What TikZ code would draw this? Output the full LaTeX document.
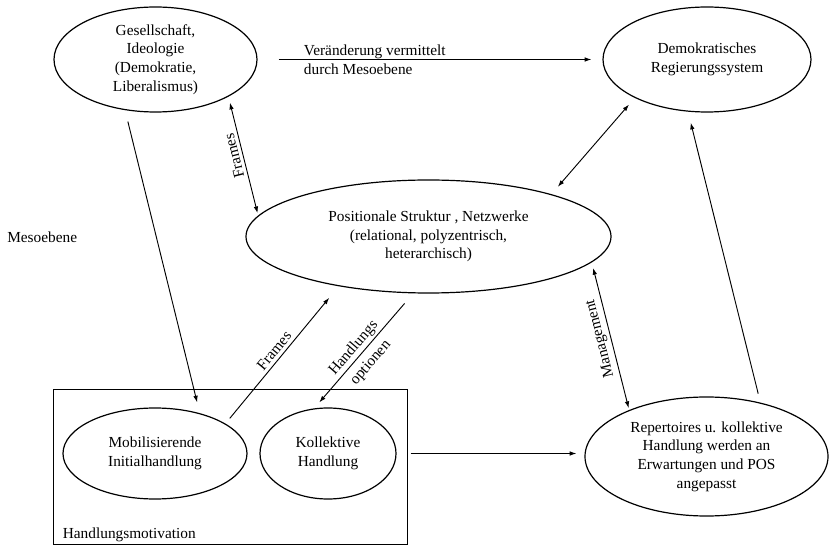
\documentclass[tikz,border=0pt]{standalone}
\usepackage{fontspec}
\setmainfont{Liberation Serif}
\usepackage{tikz}
\usetikzlibrary{arrows.meta,shapes.geometric}
\tikzset{
  oval/.style={ellipse, draw, line width=0.9pt, inner sep=0pt, align=center},   % actor / structure ellipses
  motivbox/.style={draw, line width=0.6pt, inner sep=0pt},                       % Handlungsmotivation frame
  arr/.style={-{Latex[length=5pt,width=3.4pt]}, line width=0.7pt},
  dblarr/.style={{Latex[length=5pt,width=3.4pt]}-{Latex[length=5pt,width=3.4pt]}, line width=0.7pt},
  tag/.style={inner sep=2.5pt}
}
\begin{document}
\begin{tikzpicture}[x=0.75pt, y=-0.75pt, every node/.style={font=\fontsize{11.5}{14}\selectfont}]
  \useasboundingbox (0,0) rectangle (829,545);
  % Ellipses
  \node[oval, minimum width=152.25pt, minimum height=78.75pt] (gesell) at (155.5,59.5) {Gesellschaft,\\Ideologie\\(Demokratie,\\Liberalismus)};
  \node[oval, minimum width=156pt, minimum height=78.75pt] (regsys) at (707,59.5) {Demokratisches\\Regierungssystem};
  \node[oval, minimum width=273.75pt, minimum height=84.75pt] (netz) at (428.5,236.5) {Positionale Struktur , Netzwerke\\(relational, polyzentrisch,\\heterarchisch)};
  \node[oval, minimum width=138pt, minimum height=68.25pt] (mobil) at (155,453.5) {Mobilisierende\\Initialhandlung};
  \node[oval, minimum width=102pt, minimum height=68.25pt] (kollekt) at (328,453.5) {Kollektive\\Handlung};
  \node[oval, minimum width=182.25pt, minimum height=89.25pt] (repert) at (706.5,456.5) {Repertoires u. kollektive\\Handlung werden an\\Erwartungen und POS\\angepasst};
  % Frame and free labels
  \node[motivbox, minimum width=265.5pt, minimum height=116.25pt] (motiv) at (230,466.5) {};
  \node[anchor=south west, inner sep=0pt, xshift=7.5pt, yshift=1.5pt] (motivlabel) at (motiv.south west) {Handlungsmotivation};
  \node[anchor=west, inner sep=0pt] (meso) at (7,237) {Mesoebene};
  % Connectors
  \draw[arr, shorten <=15.75pt, shorten >=8.25pt] (gesell.east) -- node[pos=0.133, anchor=west, align=left, inner sep=0pt] {Veränderung vermittelt\\durch Mesoebene} (regsys.west);
  \draw[arr, shorten <=8.8pt, shorten >=8.3pt] (gesell.-121) -- (mobil.42);
  \draw[dblarr, shorten <=1.9pt, shorten >=4.65pt] (netz.173.7) -- node[tag, sloped, allow upside down, above, pos=0.52] {Frames} (gesell.-27.8);
  \draw[dblarr, shorten <=7.35pt, shorten >=6.6pt] (netz.19) -- (regsys.-152.3);
  \draw[arr, shorten <=5.1pt, shorten >=11.2pt] (mobil.23.8) -- node[tag, sloped, above, pos=0.49] {Frames} (netz.-151.7);
  \draw[arr, shorten <=10pt, shorten >=5.9pt] (netz.-105.7) -- node[sloped, align=center, pos=0.53, yshift=-1.5pt] {Handlungs\\[3pt]optionen} (kollekt.107.6);
  \draw[dblarr, shorten <=1.5pt, shorten >=4.35pt] (repert.149.7) -- node[tag, sloped, allow upside down, above, pos=0.5] {Management} (netz.-9.1);
  \draw[arr, shorten <=10.5pt, shorten >=6pt] (kollekt.east) -- (kollekt.east -| repert.west);
  \draw[arr, shorten <=6.9pt, shorten >=8.5pt] (repert.45.5) -- (regsys.-110.9);
\end{tikzpicture}
\end{document}
